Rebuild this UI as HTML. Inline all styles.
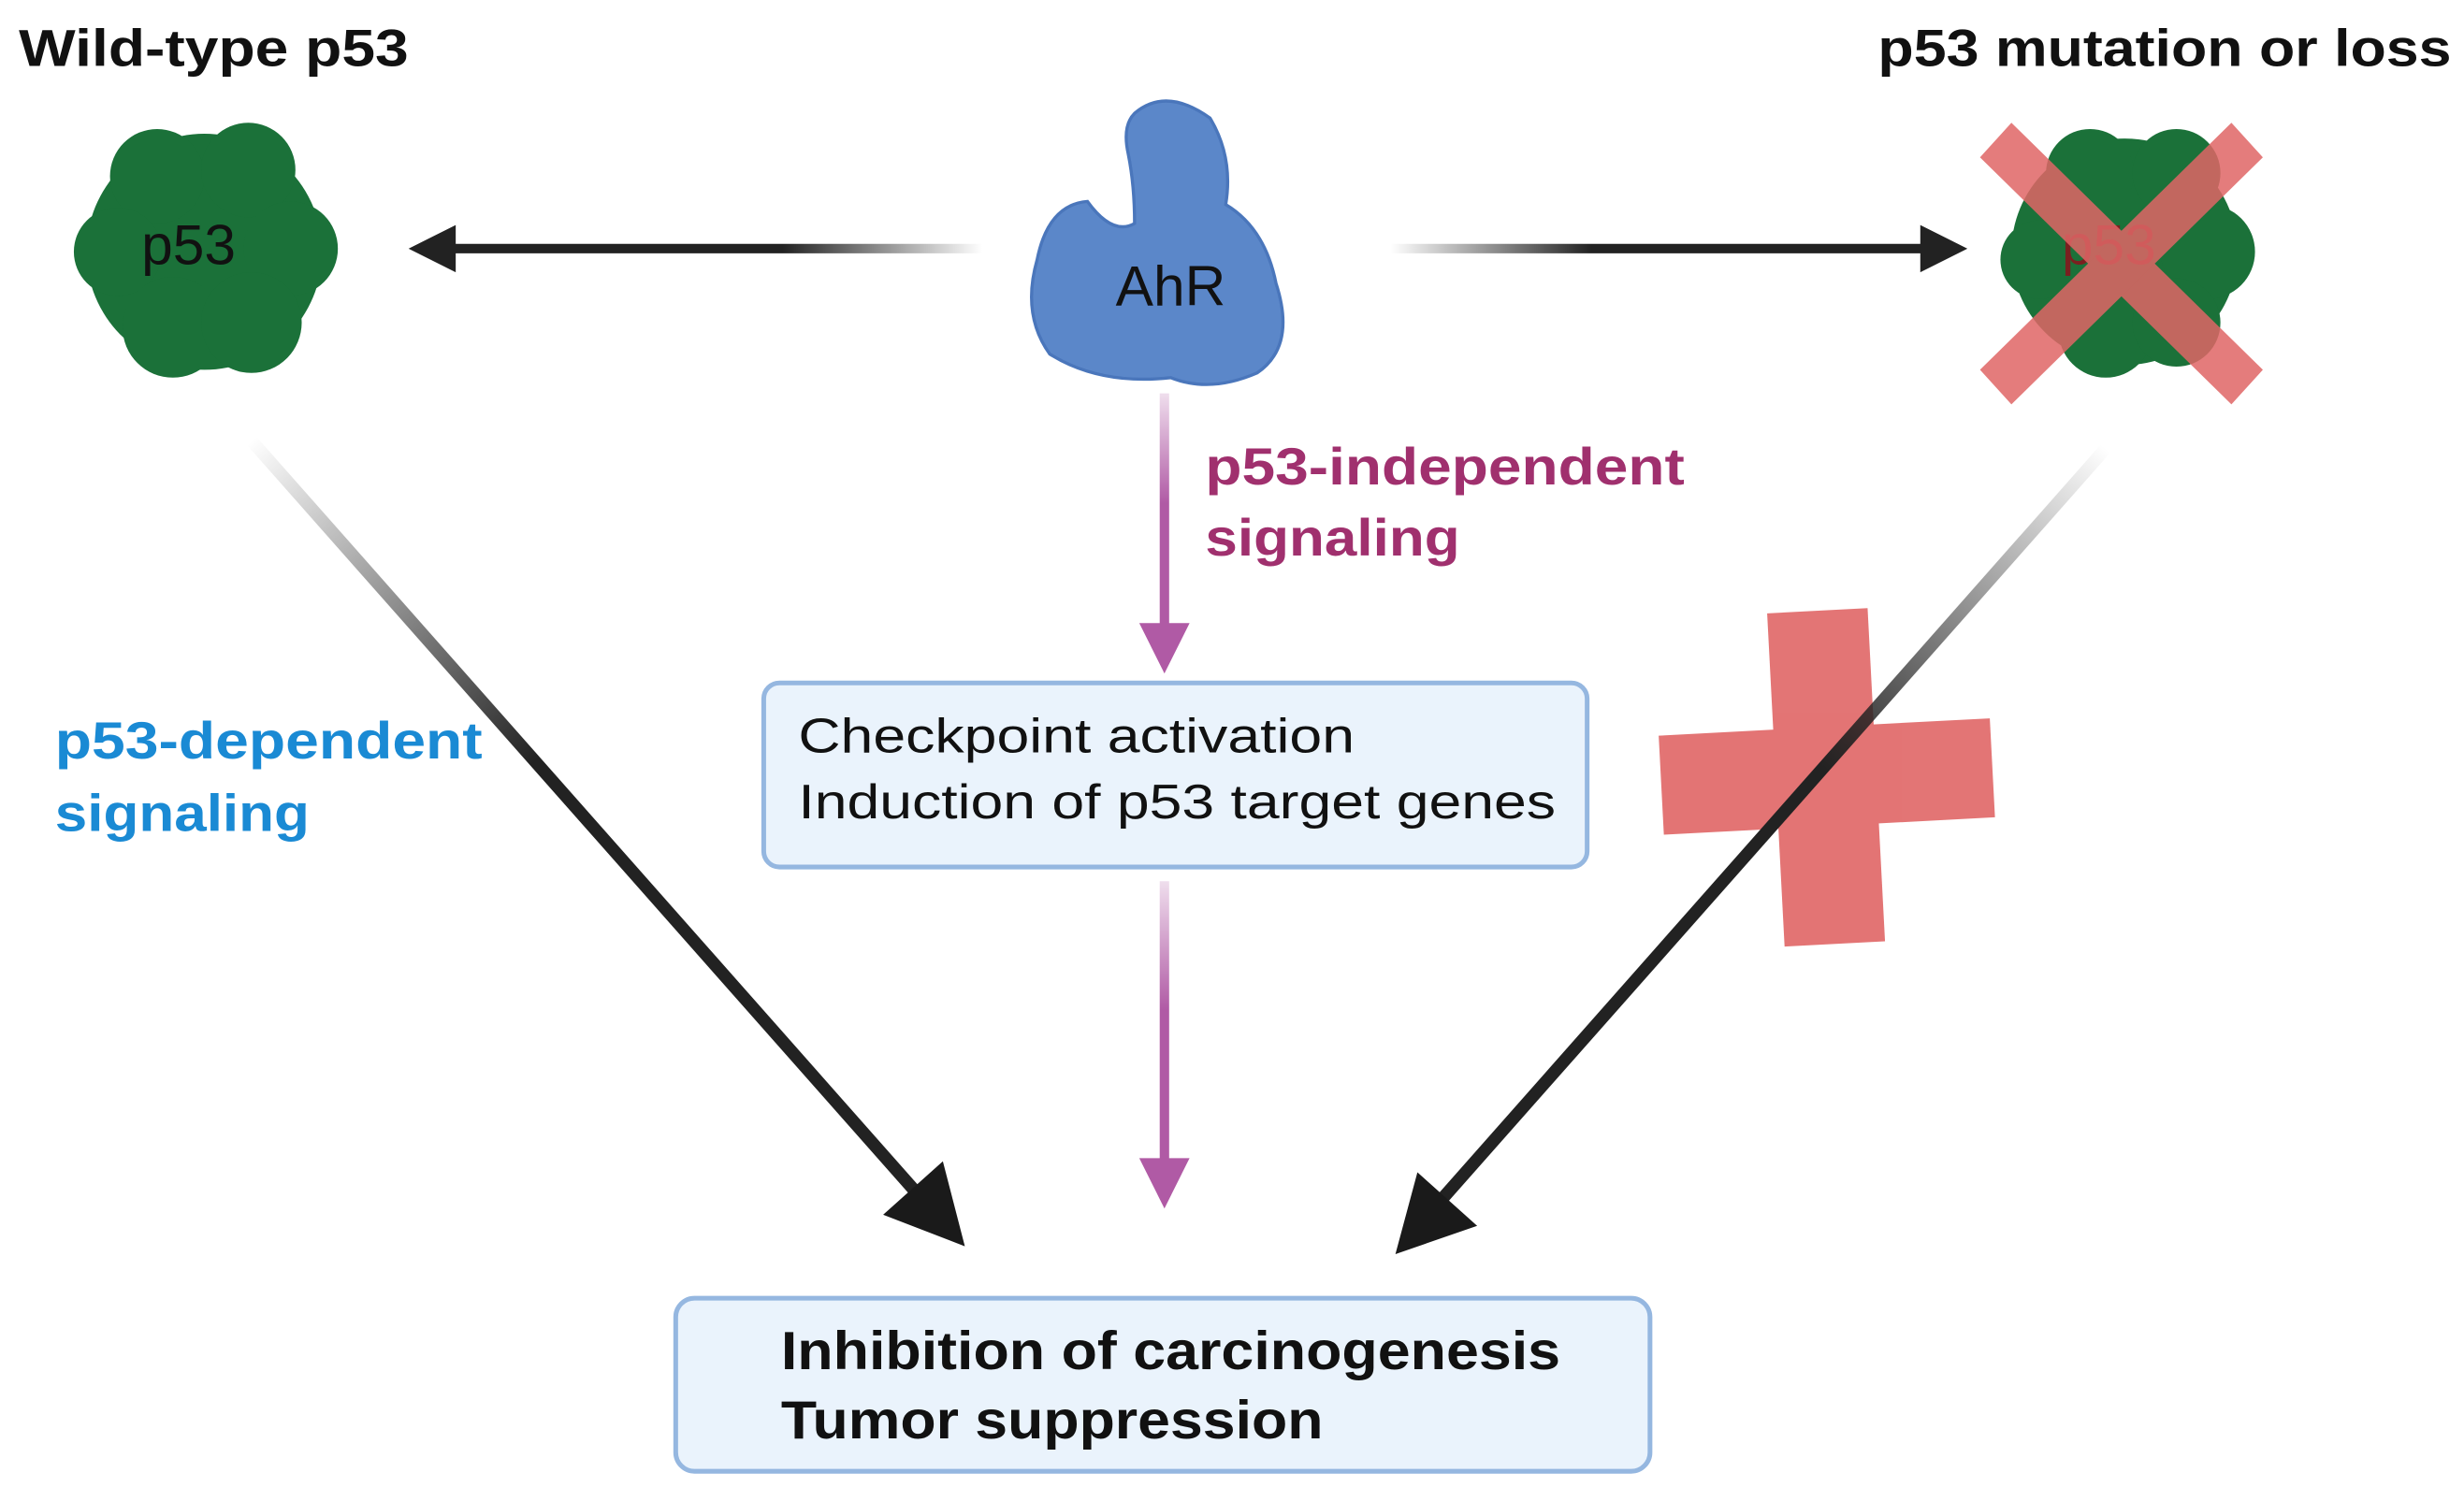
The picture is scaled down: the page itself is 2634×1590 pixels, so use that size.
<!DOCTYPE html>
<html><head><meta charset="utf-8"><style>
html,body{margin:0;padding:0;background:#fff;}
svg{display:block;}
text{font-family:"Liberation Sans",sans-serif;}
</style></head><body>
<svg width="2634" height="1590" viewBox="0 0 1568 945" preserveAspectRatio="none" xmlns="http://www.w3.org/2000/svg">
<defs>
<linearGradient id="gl" x1="625" y1="0" x2="262" y2="0" gradientUnits="userSpaceOnUse"><stop offset="0" stop-color="#222" stop-opacity="0"/><stop offset="0.35" stop-color="#222"/></linearGradient>
<linearGradient id="gr" x1="885" y1="0" x2="1250" y2="0" gradientUnits="userSpaceOnUse"><stop offset="0" stop-color="#222" stop-opacity="0"/><stop offset="0.35" stop-color="#222"/></linearGradient>
<linearGradient id="gdl" x1="160" y1="280" x2="612" y2="790" gradientUnits="userSpaceOnUse"><stop offset="0" stop-color="#222" stop-opacity="0"/><stop offset="0.4" stop-color="#222"/></linearGradient>
<linearGradient id="gdr" x1="1340" y1="285" x2="890" y2="795" gradientUnits="userSpaceOnUse"><stop offset="0" stop-color="#222" stop-opacity="0"/><stop offset="0.4" stop-color="#222"/></linearGradient>
<linearGradient id="gp1" x1="0" y1="250" x2="0" y2="425" gradientUnits="userSpaceOnUse"><stop offset="0" stop-color="#b05aa5" stop-opacity="0.2"/><stop offset="0.4" stop-color="#b05aa5"/></linearGradient>
<linearGradient id="gp2" x1="0" y1="560" x2="0" y2="765" gradientUnits="userSpaceOnUse"><stop offset="0" stop-color="#b05aa5" stop-opacity="0.2"/><stop offset="0.4" stop-color="#b05aa5"/></linearGradient>
</defs>

<text x="12" y="42" font-size="33" font-weight="bold" fill="#111" textLength="248" lengthAdjust="spacingAndGlyphs">Wild-type p53</text>
<text x="1195" y="42" font-size="33" font-weight="bold" fill="#111" textLength="365" lengthAdjust="spacingAndGlyphs">p53 mutation or loss</text>

<!-- left p53 blob -->
<g fill="#1b7139">
<circle cx="130" cy="160" r="75"/><circle cx="100" cy="112" r="30"/><circle cx="158" cy="108" r="30"/>
<circle cx="75" cy="160" r="28"/><circle cx="185" cy="158" r="30"/><circle cx="110" cy="208" r="32"/><circle cx="160" cy="205" r="32"/>
</g>
<text x="120" y="168" font-size="36" fill="#111" text-anchor="middle">p53</text>

<!-- AhR blob -->
<g fill="#5b87c9" stroke="#4a76bb" stroke-width="2">
<path d="M722 72 Q742 55 770 75 Q785 100 780 130 Q805 145 812 180 Q825 220 800 237 Q770 250 745 240 Q700 245 668 225 Q650 200 660 165 Q667 130 692 128 Q708 150 722 142 Q722 118 718 98 Q714 80 722 72Z"/>
</g>
<text x="745" y="194" font-size="36" fill="#111" text-anchor="middle">AhR</text>

<!-- right p53 blob with X -->
<g fill="#1b7139">
<circle cx="1352" cy="160" r="72"/><circle cx="1330" cy="110" r="28"/><circle cx="1385" cy="110" r="28"/>
<circle cx="1298" cy="165" r="25"/><circle cx="1405" cy="160" r="30"/><circle cx="1340" cy="210" r="30"/><circle cx="1385" cy="205" r="28"/>
</g>
<text x="1342" y="168" font-size="36" fill="#7a2020" text-anchor="middle">p53</text>
<g fill="#e06666" opacity="0.85">
<polygon points="1260,100 1280,78 1440,235 1420,257"/>
<polygon points="1420,78 1440,100 1280,257 1260,235"/>
</g>

<!-- horizontal arrows -->
<line x1="625" y1="158" x2="285" y2="158" stroke="url(#gl)" stroke-width="6"/>
<polygon points="260,158 290,143 290,173" fill="#222"/>
<line x1="885" y1="158" x2="1225" y2="158" stroke="url(#gr)" stroke-width="6"/>
<polygon points="1252,158 1222,143 1222,173" fill="#222"/>

<!-- purple arrows -->
<line x1="741" y1="250" x2="741" y2="400" stroke="url(#gp1)" stroke-width="6"/>
<polygon points="741,428 725,396 757,396" fill="#b05aa5"/>
<line x1="741" y1="560" x2="741" y2="740" stroke="url(#gp2)" stroke-width="6"/>
<polygon points="741,768 725,736 757,736" fill="#b05aa5"/>

<text x="767" y="308" font-size="33" font-weight="bold" fill="#a0306e" textLength="305" lengthAdjust="spacingAndGlyphs">p53-independent</text>
<text x="767" y="353" font-size="33" font-weight="bold" fill="#a0306e" textLength="162" lengthAdjust="spacingAndGlyphs">signaling</text>

<!-- box1 -->
<rect x="486" y="434" width="524" height="117" rx="10" fill="#eaf3fc" stroke="#95b7e0" stroke-width="3"/>
<text x="508" y="478" font-size="31" fill="#111" textLength="354" lengthAdjust="spacingAndGlyphs">Checkpoint activation</text>
<text x="508" y="520" font-size="31" fill="#111" textLength="482" lengthAdjust="spacingAndGlyphs">Induction of p53 target genes</text>

<text x="35" y="482" font-size="33" font-weight="bold" fill="#1a8ad4" textLength="272" lengthAdjust="spacingAndGlyphs">p53-dependent</text>
<text x="35" y="528" font-size="33" font-weight="bold" fill="#1a8ad4" textLength="162" lengthAdjust="spacingAndGlyphs">signaling</text>

<!-- diagonal arrows -->
<line x1="160" y1="280" x2="585" y2="760" stroke="url(#gdl)" stroke-width="8"/>
<polygon points="614,792 562,772 600,738" fill="#1a1a1a"/>

<!-- red plus -->
<g fill="#e06666" opacity="0.9" transform="rotate(-3 1162 493)">
<rect x="1130" y="388" width="64" height="212"/>
<rect x="1057" y="462" width="211" height="63"/>
</g>

<line x1="1340" y1="285" x2="915" y2="765" stroke="url(#gdr)" stroke-width="8"/>
<polygon points="888,797 902,745 940,779" fill="#1a1a1a"/>

<!-- box2 -->
<rect x="430" y="825" width="620" height="110" rx="12" fill="#eaf3fc" stroke="#95b7e0" stroke-width="3"/>
<text x="497" y="870" font-size="34" font-weight="bold" fill="#111" textLength="496" lengthAdjust="spacingAndGlyphs">Inhibition of carcinogenesis</text>
<text x="497" y="914" font-size="34" font-weight="bold" fill="#111" textLength="345" lengthAdjust="spacingAndGlyphs">Tumor suppression</text>
</svg>
</body></html>
